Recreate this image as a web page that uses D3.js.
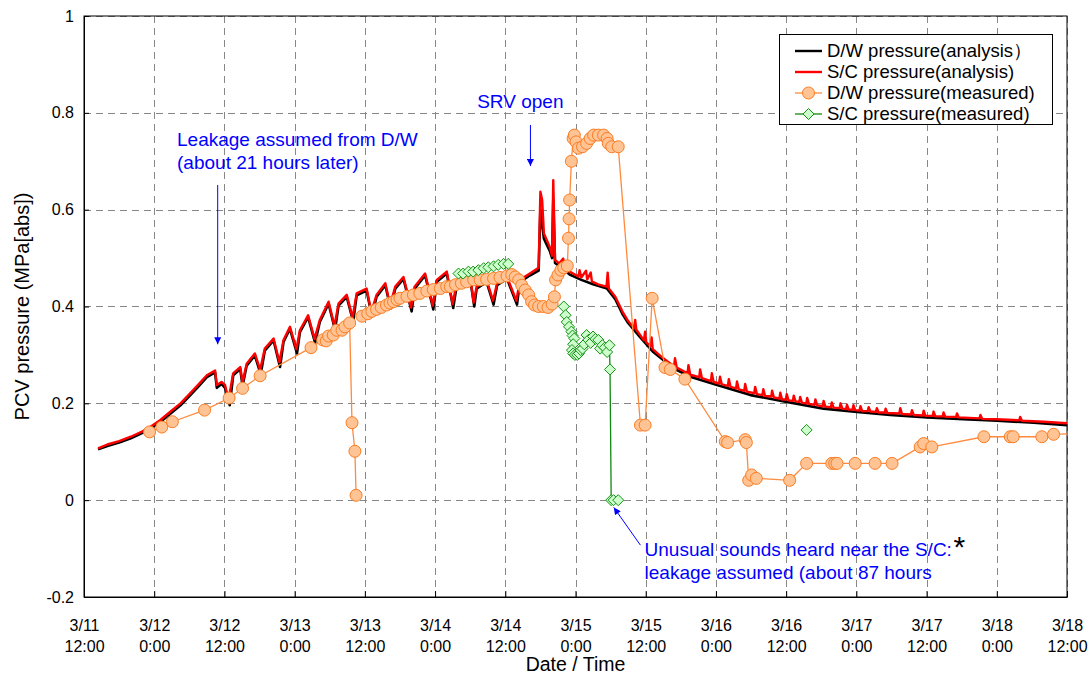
<!DOCTYPE html>
<html>
<head>
<meta charset="utf-8">
<script src="https://cdn.jsdelivr.net/npm/d3@7"></script>
<style>
body { margin: 0; background: #fff; }
svg { display: block; font-family: "Liberation Sans", Arial, sans-serif; }
</style>
</head>
<body>
<svg id="chart" width="1090" height="675"></svg>
<script>
// Time is in hours counted from 3/11 12:00, pressure in MPa[abs]
const xTicks = [0, 12, 24, 36, 48, 60, 72, 84, 96, 108, 120, 132, 144, 156, 168];
const xTickLabels = [
    ['3/11', '12:00'], ['3/12', '0:00'], ['3/12', '12:00'], ['3/13', '0:00'], ['3/13', '12:00'],
    ['3/14', '0:00'], ['3/14', '12:00'], ['3/15', '0:00'], ['3/15', '12:00'], ['3/16', '0:00'],
    ['3/16', '12:00'], ['3/17', '0:00'], ['3/17', '12:00'], ['3/18', '0:00'], ['3/18', '12:00']
];
const yTicks = [-0.2, 0, 0.2, 0.4, 0.6, 0.8, 1];
const yTickLabels = ['-0.2', '0', '0.2', '0.4', '0.6', '0.8', '1'];

const seriesNames = [
    'D/W pressure(analysis\uFF09',
    'S/C pressure(analysis)',
    'D/W pressure(measured)',
    'S/C pressure(measured)'
];

// D/W pressure (analysis) - black
const dwAnalysis = [
    [2.4, 0.105], [4, 0.112], [6, 0.119], [8, 0.128], [10, 0.139], [11.3, 0.148], [13, 0.161],
    [14.7, 0.178], [16.5, 0.196], [18.1, 0.216], [19.5, 0.234], [21, 0.254], [22.4, 0.264],
    [22.7, 0.232], [23.5, 0.24], [24.1, 0.232], [24.9, 0.196], [25.5, 0.258], [26.7, 0.271],
    [27.1, 0.236], [27.8, 0.278], [29.2, 0.299], [30.2, 0.26], [30.9, 0.309], [32.4, 0.33],
    [33.5, 0.275], [34.1, 0.327], [35.2, 0.354], [36.4, 0.303], [36.9, 0.347], [38.3, 0.378],
    [39.5, 0.325], [40.3, 0.368], [41.8, 0.406], [42.9, 0.352], [43.5, 0.402], [44.9, 0.42],
    [46, 0.369], [46.6, 0.423], [48.3, 0.433], [49.2, 0.38], [50, 0.42], [51.5, 0.444],
    [52.4, 0.396], [53.2, 0.437], [54.6, 0.457], [56, 0.39], [56.5, 0.437], [58.3, 0.464],
    [59.7, 0.394], [60.3, 0.451], [62, 0.468], [63.1, 0.397], [63.7, 0.444], [64.6, 0.454],
    [66, 0.457], [66.7, 0.4], [67.1, 0.437], [68.8, 0.451], [70, 0.404], [70.6, 0.444],
    [72.3, 0.457], [74, 0.404], [74.5, 0.451], [76.2, 0.464], [77.7, 0.474], [78, 0.6],
    [78.6, 0.54], [79.6, 0.515], [80, 0.5], [80.2, 0.62], [80.5, 0.49], [81.2, 0.484],
    [83, 0.466], [85, 0.455], [87, 0.446], [89.4, 0.437], [90.8, 0.415], [92, 0.385],
    [93, 0.366], [95, 0.337], [97.3, 0.306], [100.8, 0.272], [103.6, 0.255], [108.2, 0.238],
    [113.9, 0.217], [120.1, 0.203], [126.4, 0.189], [132.1, 0.182], [137.8, 0.176],
    [144.1, 0.171], [150.3, 0.167], [156, 0.164], [162.3, 0.16], [168, 0.155]
];

// S/C pressure (analysis) - red
const scAnalysis = [
    [2.4, 0.107], [4, 0.115], [6, 0.122], [8, 0.131], [10, 0.142], [11.3, 0.151], [13, 0.165],
    [14.7, 0.182], [16.5, 0.2], [18.1, 0.22], [19.5, 0.238], [21, 0.258], [22.4, 0.268],
    [22.7, 0.238], [23.5, 0.244], [24.1, 0.238], [24.7, 0.207], [25.5, 0.262], [26.7, 0.275],
    [27.1, 0.243], [27.8, 0.282], [29.2, 0.303], [30.1, 0.269], [30.9, 0.313], [32.4, 0.334],
    [33.4, 0.285], [34.1, 0.331], [35.2, 0.358], [36.3, 0.312], [36.9, 0.351], [38.3, 0.382],
    [39.4, 0.333], [40.3, 0.372], [41.8, 0.41], [42.8, 0.36], [43.5, 0.406], [44.9, 0.424],
    [45.9, 0.377], [46.6, 0.427], [48.3, 0.437], [49.1, 0.388], [50, 0.424], [51.5, 0.448],
    [52.3, 0.403], [53.2, 0.441], [54.6, 0.461], [55.9, 0.398], [56.5, 0.441], [58.3, 0.468],
    [59.6, 0.402], [60.3, 0.455], [62, 0.472], [63, 0.405], [63.7, 0.448], [64.6, 0.458],
    [66, 0.461], [66.6, 0.408], [67.1, 0.441], [68.8, 0.455], [69.9, 0.412], [70.6, 0.448],
    [72.3, 0.461], [73.9, 0.412], [74.5, 0.455], [76.2, 0.468], [77.7, 0.48], [78, 0.637],
    [78.3, 0.62], [78.6, 0.551], [79.6, 0.523], [80, 0.505], [80.2, 0.661], [80.5, 0.496],
    [81.2, 0.489], [81.9, 0.499], [82.2, 0.478], [83, 0.472], [84.5, 0.462], [84.7, 0.475],
    [85, 0.46], [85.8, 0.474], [86, 0.456], [86.6, 0.47], [86.8, 0.452], [88, 0.445],
    [89.3, 0.441], [89.5, 0.47], [89.7, 0.437], [90.8, 0.42], [92, 0.39], [93, 0.37],
    [94, 0.355], [94.2, 0.372], [94.4, 0.352], [95.7, 0.33], [95.9, 0.348], [96.1, 0.326],
    [96.8, 0.318], [97, 0.336], [97.2, 0.312], [98.5, 0.298],
    [100.85, 0.276], [101, 0.293], [101.3, 0.274],
    [103.15, 0.262], [103.3, 0.279], [103.6, 0.259],
    [105.15, 0.254], [105.3, 0.27], [105.6, 0.252],
    [107.15, 0.246], [107.3, 0.262], [107.6, 0.244],
    [108.55, 0.241], [108.7, 0.255], [109, 0.239],
    [110.05, 0.236], [110.2, 0.25], [110.5, 0.234],
    [111.45, 0.231], [111.6, 0.245], [111.9, 0.229],
    [112.85, 0.226], [113, 0.24], [113.3, 0.224],
    [114.55, 0.221], [114.7, 0.234], [115, 0.219],
    [115.95, 0.217], [116.1, 0.229], [116.4, 0.215],
    [117.45, 0.214], [117.6, 0.226], [117.9, 0.212],
    [118.85, 0.21], [119, 0.222], [119.3, 0.208],
    [119.95, 0.208], [120.1, 0.219], [120.4, 0.206],
    [121.15, 0.205], [121.3, 0.216], [121.6, 0.204],
    [122.25, 0.203], [122.4, 0.213], [122.7, 0.201],
    [123.45, 0.2], [123.6, 0.211], [123.9, 0.199],
    [124.85, 0.197], [125, 0.208], [125.3, 0.196],
    [126.25, 0.194], [126.4, 0.205], [126.7, 0.193],
    [127.65, 0.192], [127.8, 0.202], [128.1, 0.191],
    [129.15, 0.19], [129.3, 0.2], [129.6, 0.189],
    [130.25, 0.188], [130.4, 0.197], [130.7, 0.187],
    [131.35, 0.187], [131.5, 0.196], [131.8, 0.186],
    [132.55, 0.185], [132.7, 0.194], [133, 0.184],
    [133.95, 0.184], [134.1, 0.192], [134.4, 0.183],
    [135.35, 0.182], [135.5, 0.19], [135.8, 0.181],
    [136.85, 0.181], [137, 0.189], [137.3, 0.18],
    [139.35, 0.179], [139.5, 0.19], [139.8, 0.178],
    [141.35, 0.177], [141.5, 0.186], [141.8, 0.176],
    [143.35, 0.175], [143.5, 0.185], [143.8, 0.174],
    [145.05, 0.174], [145.2, 0.183], [145.5, 0.173],
    [146.75, 0.173], [146.9, 0.181], [147.2, 0.172],
    [149.05, 0.172], [149.2, 0.179], [149.5, 0.171],
    [153.05, 0.169], [153.2, 0.176], [153.5, 0.168],
    [156, 0.167],
    [159.85, 0.165], [160, 0.172], [160.3, 0.164],
    [164, 0.162], [168, 0.159]
];

// D/W pressure (measured) - orange circles, null = break in the line
const dwMeasured = [
    [11.2, 0.141], [13.3, 0.151], [15.1, 0.162], [20.6, 0.186], [24.8, 0.211], [27.1, 0.231],
    [30.1, 0.257], [38.8, 0.315], [40.8, 0.331], [41.4, 0.329], [41.8, 0.339], [42.6, 0.341],
    [43.2, 0.351], [44.1, 0.351], [44.6, 0.358], [45.4, 0.366], [45.8, 0.16], [46.3, 0.101],
    [46.5, 0.01],
    null,
    [47.5, 0.38], [48.5, 0.385], [49.2, 0.39], [50, 0.394], [50.8, 0.398], [51.7, 0.403],
    [52.3, 0.407], [52.9, 0.41], [53.5, 0.414], [54, 0.417], [55.2, 0.421], [56.3, 0.424],
    [57.4, 0.427], [58.6, 0.432], [59.7, 0.435], [60.9, 0.437], [62, 0.441], [62.6, 0.441],
    [63.5, 0.445], [64.5, 0.448], [65.4, 0.451], [66.6, 0.455], [67.7, 0.455], [68.8, 0.456],
    [70, 0.458], [71.1, 0.46], [72.3, 0.463], [73.1, 0.466], [73.7, 0.461], [74.3, 0.455],
    [74.8, 0.444], [75.4, 0.434], [76, 0.424], [76.5, 0.41], [77, 0.403], [77.7, 0.4],
    [78.5, 0.4], [79.3, 0.398], [80, 0.405], [80.4, 0.42], [80.6, 0.455], [81, 0.465],
    [81.5, 0.475], [82, 0.48], [82.6, 0.484], [82.8, 0.541], [82.9, 0.581], [83, 0.62],
    [83.3, 0.7], [83.6, 0.747], [83.8, 0.754], [84.1, 0.74], [84.5, 0.727], [85.2, 0.73],
    [85.9, 0.737], [86.5, 0.747], [87.1, 0.754], [87.9, 0.754], [88.8, 0.754], [89.4, 0.747],
    [89.6, 0.737], [90.2, 0.73], [91.3, 0.73], [95.1, 0.155], [95.9, 0.155], [97.1, 0.417],
    [99.3, 0.274], [100.2, 0.27], [102.7, 0.25], [109.6, 0.121], [110, 0.119], [113, 0.125],
    [113.2, 0.119], [113.6, 0.041], [114.1, 0.052], [114.9, 0.045], [120.6, 0.041],
    [123.5, 0.076], [127.8, 0.076], [128.3, 0.076], [128.7, 0.076], [131.8, 0.076],
    [135.2, 0.076], [138.1, 0.076], [142.9, 0.11], [143.5, 0.117], [144.9, 0.11],
    [153.8, 0.131], [158.3, 0.131], [158.8, 0.131], [163.7, 0.131], [165.7, 0.136], [170, 0.138]
];

// S/C pressure (measured) - green diamonds
const scMeasured = [
    [64, 0.468], [64.8, 0.468], [65.7, 0.472], [66.5, 0.472], [67.4, 0.475], [68.3, 0.479],
    [69.1, 0.481], [70, 0.483], [70.8, 0.486], [71.7, 0.488], [72.5, 0.488],
    null,
    [82, 0.4], [82.3, 0.382], [82.5, 0.368], [82.9, 0.358], [83.3, 0.348], [83.5, 0.34],
    [83.8, 0.334], [83.6, 0.322], [83.4, 0.31], [83.6, 0.303], [83.9, 0.3], [84.3, 0.3],
    [84.6, 0.303], [84.9, 0.31], [85.2, 0.313], [85.5, 0.322], [85.9, 0.341], [86.2, 0.331],
    [86.6, 0.325], [87, 0.338], [87.4, 0.333], [87.9, 0.331], [88.2, 0.313], [88.6, 0.32],
    [89, 0.315], [89.4, 0.306], [89.8, 0.32], [89.9, 0.27], [90.1, 0], [90.5, 0], [91.3, 0],
    null,
    [123.5, 0.145]
];

// Chart dimensions
const margin = {top: 16, right: 23, bottom: 78, left: 84};
const width = 1090 - margin.left - margin.right;
const height = 675 - margin.top - margin.bottom;

const svg = d3.select('#chart');

const defs = svg.append('defs');
defs.append('clipPath').attr('id', 'plot-clip')
    .append('rect').attr('width', width).attr('height', height);
defs.append('marker')
    .attr('id', 'arrow')
    .attr('viewBox', '0 0 10 10')
    .attr('refX', 10).attr('refY', 5)
    .attr('markerWidth', 8).attr('markerHeight', 7)
    .attr('markerUnits', 'userSpaceOnUse')
    .attr('orient', 'auto')
    .append('path').attr('d', 'M0,0L10,5L0,10z').attr('fill', '#0000ff');

const g = svg.append('g').attr('transform', `translate(${margin.left},${margin.top})`);

// Scales
const xScale = d3.scaleLinear().domain([0, 168]).range([0, width]);
const yScale = d3.scaleLinear().domain([-0.2, 1]).range([height, 0]);

// Grid
const grid = g.append('g').attr('stroke', '#888').attr('stroke-width', 1).attr('stroke-dasharray', '7,5');
grid.selectAll('.vgrid').data(xTicks).enter().append('line')
    .attr('x1', d => Math.round(xScale(d)) + 0.5).attr('x2', d => Math.round(xScale(d)) + 0.5)
    .attr('y1', 0).attr('y2', height);
grid.selectAll('.hgrid').data(yTicks).enter().append('line')
    .attr('y1', d => Math.round(yScale(d)) + 0.5).attr('y2', d => Math.round(yScale(d)) + 0.5)
    .attr('x1', 0).attr('x2', width);

// Axes (tick marks point inwards, as in the source chart)
const xAxis = g.append('g')
    .attr('transform', `translate(0,${height})`)
    .call(d3.axisBottom(xScale).tickValues(xTicks).tickSizeInner(-6).tickSizeOuter(0));
xAxis.selectAll('.tick text').each(function(d, i) {
    const t = d3.select(this).text(null).attr('y', null).attr('dy', null);
    t.append('tspan').attr('x', 0).attr('y', 34).text(xTickLabels[i][0]);
    t.append('tspan').attr('x', 0).attr('y', 55).text(xTickLabels[i][1]);
});

const yAxis = g.append('g')
    .call(d3.axisLeft(yScale).tickValues(yTicks).tickFormat((d, i) => yTickLabels[i])
        .tickSizeInner(-5).tickSizeOuter(0).tickPadding(10));

g.selectAll('.tick text').attr('font-size', 16).attr('fill', '#000').attr('font-family', null);
g.selectAll('.domain, .tick line').attr('stroke', '#000');

// Frame
g.append('rect').attr('x', 0).attr('y', 0).attr('width', width).attr('height', height)
    .attr('fill', 'none').attr('stroke', '#000').attr('stroke-width', 1);

// Axis titles
g.append('text')
    .attr('x', width / 2).attr('y', height + 74)
    .attr('text-anchor', 'middle').attr('font-size', 19.5)
    .text('Date / Time');
g.append('text')
    .attr('transform', `translate(${29 - margin.left},${height / 2}) rotate(-90)`)
    .attr('text-anchor', 'middle').attr('font-size', 20)
    .text('PCV pressure (MPa[abs])');

// Data
const plot = g.append('g').attr('clip-path', 'url(#plot-clip)');

const line = d3.line()
    .defined(d => d !== null)
    .x(d => xScale(d[0]))
    .y(d => yScale(d[1]));

plot.append('path').datum(dwAnalysis)
    .attr('d', line).attr('fill', 'none')
    .attr('stroke', '#000').attr('stroke-width', 2.6).attr('stroke-linejoin', 'round');
plot.append('path').datum(scAnalysis)
    .attr('d', line).attr('fill', 'none')
    .attr('stroke', '#ff0000').attr('stroke-width', 2.4).attr('stroke-linejoin', 'round');

plot.append('path').datum(dwMeasured)
    .attr('d', line).attr('fill', 'none')
    .attr('stroke', '#ff8a3d').attr('stroke-width', 1.3);
plot.selectAll('.dw-dot').data(dwMeasured.filter(d => d !== null)).enter().append('circle')
    .attr('class', 'dw-dot')
    .attr('cx', d => xScale(d[0])).attr('cy', d => yScale(d[1]))
    .attr('r', 6)
    .attr('fill', '#ffc394').attr('stroke', '#fa7d24').attr('stroke-width', 1);

const diamond = d3.symbol().type(d3.symbolDiamond2).size(78);
plot.append('path').datum(scMeasured)
    .attr('d', line).attr('fill', 'none')
    .attr('stroke', '#118811').attr('stroke-width', 1.3);
plot.selectAll('.sc-dot').data(scMeasured.filter(d => d !== null)).enter().append('path')
    .attr('class', 'sc-dot')
    .attr('transform', d => `translate(${xScale(d[0])},${yScale(d[1])})`)
    .attr('d', diamond)
    .attr('fill', '#ccffcc').attr('stroke', '#139013').attr('stroke-width', 1);

// Annotations
const ann = g.append('g').attr('fill', '#0000ff').attr('font-size', 19);

function arrow(h1, v1, h2, v2) {
    ann.append('line')
        .attr('x1', xScale(h1)).attr('y1', yScale(v1))
        .attr('x2', xScale(h2)).attr('y2', yScale(v2))
        .attr('stroke', '#0000ff').attr('stroke-width', 1)
        .attr('marker-end', 'url(#arrow)');
}

ann.append('text').attr('x', xScale(15.9)).attr('y', yScale(0.731)).text('Leakage assumed from D/W');
ann.append('text').attr('x', xScale(15.9)).attr('y', yScale(0.684)).text('(about 21 hours later)');
arrow(22.85, 0.651, 22.85, 0.322);

ann.append('text').attr('x', xScale(67.2)).attr('y', yScale(0.81)).text('SRV open');
arrow(76.3, 0.775, 76.3, 0.69);

ann.append('text').attr('x', xScale(95.8)).attr('y', yScale(-0.116)).text('Unusual sounds heard near the S/C:');
ann.append('text').attr('x', xScale(95.8)).attr('y', yScale(-0.163)).text('leakage assumed (about 87 hours');
ann.append('text').attr('x', xScale(148.6)).attr('y', yScale(-0.118))
    .attr('fill', '#000').attr('font-size', 30).text('*');
arrow(95.1, -0.093, 90.55, -0.015);

// Legend
const legend = svg.append('g').attr('transform', 'translate(779,34)');
legend.append('rect').attr('x', 0.5).attr('y', 0.5).attr('width', 273).attr('height', 90)
    .attr('fill', '#fff').attr('stroke', '#000').attr('stroke-width', 1);

const legendColors = ['#000', '#ff0000', '#ff8a3d', '#118811'];
seriesNames.forEach((name, i) => {
    const ly = 17 + i * 21;
    legend.append('line')
        .attr('x1', 16).attr('x2', 43).attr('y1', ly).attr('y2', ly)
        .attr('stroke', legendColors[i]).attr('stroke-width', i < 2 ? 2.4 : 1.3);
    if (i === 2) {
        legend.append('circle').attr('cx', 29.5).attr('cy', ly).attr('r', 6)
            .attr('fill', '#ffc394').attr('stroke', '#fa7d24');
    }
    if (i === 3) {
        legend.append('path').attr('transform', `translate(29.5,${ly})`).attr('d', diamond)
            .attr('fill', '#ccffcc').attr('stroke', '#139013');
    }
    legend.append('text')
        .attr('x', 48).attr('y', ly).attr('dy', '0.35em')
        .attr('font-size', 18.5)
        .text(name);
});
</script>
</body>
</html>
